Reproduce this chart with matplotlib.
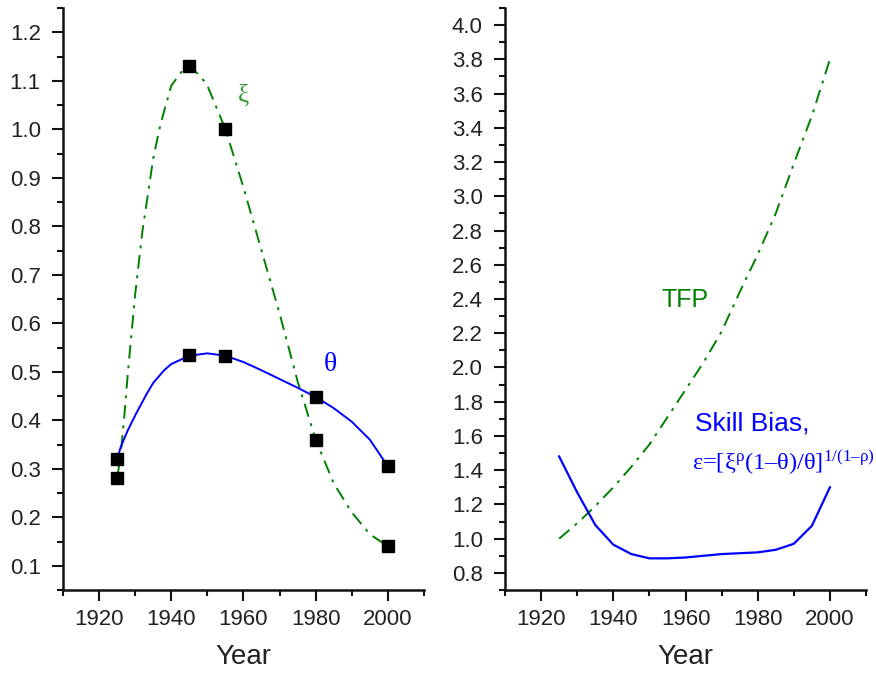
import matplotlib
matplotlib.use("Agg")
import matplotlib.pyplot as plt
from matplotlib.ticker import MultipleLocator

plt.rcParams['font.family'] = ['Liberation Sans', 'DejaVu Sans']
plt.rcParams['mathtext.fontset'] = 'custom'
plt.rcParams['mathtext.rm'] = 'Liberation Serif'
plt.rcParams['mathtext.it'] = 'Liberation Serif'
plt.rcParams['mathtext.bf'] = 'Liberation Serif:bold'

# ---- Left panel: markers ----
xi_years = [1925, 1945, 1955, 1980, 2000]
xi_vals = [0.28, 1.13, 1.00, 0.36, 0.14]
theta_years = [1925, 1945, 1955, 1980, 2000]
theta_vals = [0.32, 0.535, 0.532, 0.448, 0.305]

# ---- Left panel: fitted curves ----
xi_curve_years = [1925, 1926, 1927, 1928, 1930, 1932, 1935, 1937, 1940, 1943, 1945,
                  1948, 1950, 1955, 1960, 1965, 1970, 1975, 1980, 1985, 1990, 1995, 2000]
xi_curve_vals = [0.28, 0.33, 0.41, 0.50, 0.66, 0.79, 0.94, 1.01, 1.09, 1.12, 1.13,
                 1.11, 1.09, 1.00, 0.88, 0.75, 0.62, 0.48, 0.36, 0.27, 0.21, 0.165, 0.14]
theta_curve_years = [1925, 1926, 1928, 1930, 1933, 1935, 1938, 1940, 1945, 1950, 1955,
                     1960, 1965, 1970, 1975, 1980, 1985, 1990, 1995, 2000]
theta_curve_vals = [0.32, 0.345, 0.38, 0.41, 0.452, 0.477, 0.503, 0.516, 0.533, 0.538,
                    0.533, 0.52, 0.503, 0.485, 0.467, 0.448, 0.425, 0.397, 0.36, 0.305]

# ---- Right panel ----
tfp_years = [1925, 1930, 1935, 1940, 1945, 1950, 1955, 1960, 1965, 1970, 1975, 1980,
             1985, 1990, 1995, 2000]
tfp_vals = [1.00, 1.09, 1.19, 1.30, 1.42, 1.55, 1.71, 1.87, 2.03, 2.21, 2.44, 2.66,
            2.90, 3.19, 3.47, 3.80]
sb_years = [1925, 1930, 1935, 1940, 1945, 1950, 1955, 1960, 1965, 1970, 1975, 1980,
            1985, 1990, 1995, 2000]
sb_vals = [1.48, 1.27, 1.08, 0.965, 0.91, 0.885, 0.885, 0.89, 0.90, 0.91, 0.915, 0.92,
           0.935, 0.97, 1.075, 1.30]

x_ticks = [1920, 1940, 1960, 1980, 2000]

GREEN = '#008000'
BLUE = '#0000FF'
DASHDOT = (0, (7, 3.5, 1.5, 3.5))

fig = plt.figure(figsize=(8.76, 6.73), dpi=100)
axL = fig.add_axes([0.0719, 0.1233, 0.4121, 0.8648])
axR = fig.add_axes([0.5765, 0.1233, 0.4121, 0.8648])

# left
axL.plot(xi_curve_years, xi_curve_vals, color=GREEN, lw=1.4, linestyle=DASHDOT, zorder=2)
axL.plot(theta_curve_years, theta_curve_vals, color=BLUE, lw=1.4, zorder=2)
axL.plot(xi_years, xi_vals, 's', color='black', ms=8.5, zorder=3)
axL.plot(theta_years, theta_vals, 's', color='black', ms=8.5, zorder=3)
axL.set_xlim(1910, 2010)
axL.set_ylim(0.05, 1.25)
axL.yaxis.set_major_locator(MultipleLocator(0.1))
axL.yaxis.set_minor_locator(MultipleLocator(0.05))
axL.text(1960.1, 1.07, 'ξ', color='#2e9a2e', fontsize=18, family='Liberation Serif',
         ha='center', va='center')
axL.text(1984.1, 0.516, 'θ', color=BLUE, fontsize=20, family='Liberation Serif',
         ha='center', va='center')

# right
axR.plot(tfp_years, tfp_vals, color=GREEN, lw=1.4, linestyle=DASHDOT, zorder=2)
axR.plot(sb_years, sb_vals, color=BLUE, lw=1.6, zorder=2)
axR.set_xlim(1910, 2010)
axR.set_ylim(0.7, 4.1)
axR.yaxis.set_major_locator(MultipleLocator(0.2))
axR.yaxis.set_minor_locator(MultipleLocator(0.1))
axR.text(1959.9, 2.394, 'TFP', color=GREEN, fontsize=18, ha='center', va='center')
axR.text(1962.6, 1.674, 'Skill Bias,', color=BLUE, fontsize=19, ha='left', va='center')
axR.text(1961.8, 1.40, 'ε=[ξ${}^{ρ}$(1–θ)/θ]${}^{1/(1–ρ)}$',
         color=BLUE, fontsize=17.6, family='Liberation Serif', ha='left', va='baseline')

for ax in (axL, axR):
    ax.set_xticks(x_ticks)
    ax.xaxis.set_minor_locator(MultipleLocator(10))
    for s in ('top', 'right'):
        ax.spines[s].set_visible(False)
    for s in ('left', 'bottom'):
        ax.spines[s].set_linewidth(1.8)
        ax.spines[s].set_color('#111111')
    ax.tick_params(which='major', direction='out', length=8, width=1.5,
                   labelsize=16, labelcolor='#222222', color='#111111')
    ax.tick_params(axis='y', which='major', pad=8)
    ax.tick_params(axis='x', which='major', pad=6)
    ax.tick_params(which='minor', direction='out', length=4, width=1.5, color='#111111')
    ax.set_xlabel('Year', fontsize=20, color='#222222', labelpad=10)

fig.savefig('out.png', dpi=100)
